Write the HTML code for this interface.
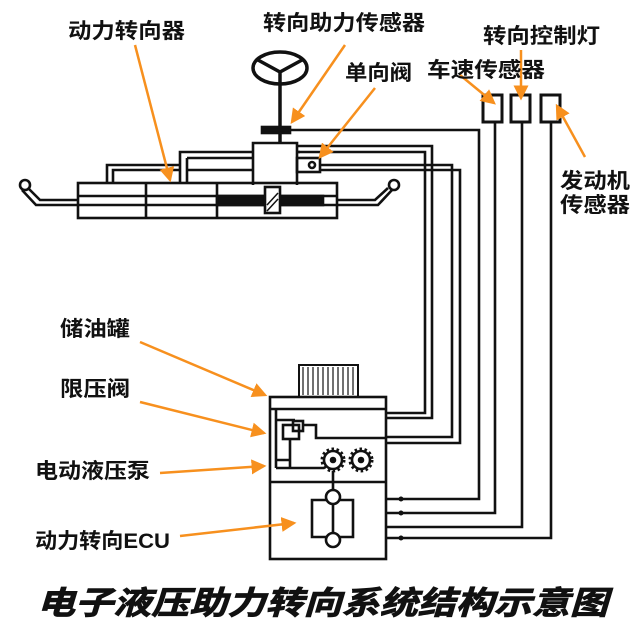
<!DOCTYPE html>
<html><head><meta charset="utf-8"><style>
body{margin:0;background:#fff;width:640px;height:627px;overflow:hidden}
svg text{font-family:"Liberation Sans","Noto Sans CJK SC",sans-serif;font-weight:bold;fill:#111}
</style></head><body>
<svg width="640" height="627" viewBox="0 0 640 627" xmlns="http://www.w3.org/2000/svg">
<defs><marker id="a" markerWidth="6" markerHeight="6" refX="5" refY="3" orient="auto" markerUnits="strokeWidth"><path d="M0,0 L6,3 L0,6 z" fill="#f7901e"/></marker></defs>
<g fill="none" stroke="#111" stroke-width="2.6">
<ellipse cx="280" cy="68" rx="27" ry="16" stroke-width="3.5"/>
<path d="M258,60 L280,72 L302,60 M280,72 L280,84" stroke-width="3.5"/>
<line x1="280" y1="84" x2="280" y2="143" stroke-width="3.5"/>
<rect x="262" y="127" width="28" height="6" fill="#111"/>
<path d="M290,130 H479 V499 H386"/>
<path d="M253,185 V143 H297 V185"/>
<path d="M180,183 V152 H253 M297,152 H300"/>
<path d="M107,183 V165 H180"/>
<path d="M113,183 V170 H180 M187,158 H253 M187,158 V183 M187,170 H253"/>
<rect x="297" y="158" width="23" height="14"/>
<circle cx="312" cy="165" r="3"/>
<path d="M297,152 H425 V413 H386 M297,146 H432 V418 H386" />
<path d="M320,165 H452 V437 H386 M320,170 H460 V443 H386"/>
<rect x="78" y="183" width="259" height="35"/>
<line x1="78" y1="196" x2="337" y2="196"/>
<line x1="78" y1="205" x2="337" y2="205"/>
<line x1="146" y1="183" x2="146" y2="218"/>
<line x1="217" y1="183" x2="217" y2="218"/>
<rect x="217" y="196" width="106" height="9" fill="#111"/>
<rect x="265" y="187" width="15" height="26" fill="#fff"/>
<path d="M267,205 L278,193 M267,211 L278,199" stroke-width="1.5"/>
<path d="M78,200 H40 L28,188 M78,205 H36 L22,190"/>
<circle cx="25" cy="185" r="5"/>
<path d="M337,200 H375 L388,188 M337,205 H378 L392,190"/>
<circle cx="394" cy="185" r="5"/>
<rect x="483" y="95" width="19" height="27" stroke-width="3"/>
<rect x="511" y="95" width="19" height="27" stroke-width="3"/>
<rect x="541" y="95" width="19" height="27" stroke-width="3"/>
<path d="M495,122 V513 H386 M522,122 V527 H386 M551,122 V538 H386"/>
<rect x="299" y="365" width="59" height="32" stroke-width="2"/>
<path d="M303,367 V395 M308,367 V395 M313,367 V395 M318,367 V395 M323,367 V395 M328,367 V395 M333,367 V395 M338,367 V395 M343,367 V395 M348,367 V395 M353,367 V395" stroke-width="1.2"/>
<rect x="270" y="397" width="116" height="162"/>
<line x1="270" y1="409" x2="386" y2="409"/>
<line x1="270" y1="482" x2="386" y2="482"/>
<path d="M276,468 V420 H295 M276,420 V409"/>
<rect x="283" y="425" width="16" height="14"/>
<rect x="293" y="421" width="10" height="10"/>
<path d="M303,425 H316 V438 H386 M290,439 V460 H276 M290,460 V468 M276,468 H324"/>
<circle cx="333" cy="460" r="9"/><circle cx="361" cy="460" r="9"/>
<circle cx="333" cy="460" r="11" stroke-dasharray="2.5 2.5" stroke-width="3"/>
<circle cx="361" cy="460" r="11" stroke-dasharray="2.5 2.5" stroke-width="3"/>
<circle cx="333" cy="460" r="2" fill="#111"/><circle cx="361" cy="460" r="2" fill="#111"/>
<path d="M333,471 V490 M333,505 V532"/>
<circle cx="333" cy="497" r="7"/>
<circle cx="333" cy="540" r="7"/>
<path d="M326,500 H312 V537 H326 M340,500 H353 V537 H340"/>
</g>
<g fill="#111"><circle cx="401" cy="499" r="2.5"/><circle cx="401" cy="513" r="2.5"/><circle cx="401" cy="538" r="2.5"/></g>
<g stroke="#f7901e" stroke-width="2.5" marker-end="url(#a)">
<line x1="135" y1="45" x2="170" y2="180"/>
<line x1="345" y1="45" x2="292" y2="122"/>
<line x1="375" y1="88" x2="320" y2="157"/>
<line x1="460" y1="75" x2="494" y2="103"/>
<line x1="521" y1="50" x2="521" y2="98"/>
<line x1="585" y1="157" x2="557" y2="106"/>
<line x1="140" y1="342" x2="265" y2="395"/>
<line x1="140" y1="402" x2="264" y2="433"/>
<line x1="160" y1="473" x2="264" y2="466"/>
<line x1="180" y1="536" x2="294" y2="523"/>
</g>
<g font-size="21">
<text x="68" y="38" textLength="117" lengthAdjust="spacingAndGlyphs">动力转向器</text>
<text x="263" y="30" textLength="162" lengthAdjust="spacingAndGlyphs">转向助力传感器</text>
<text x="345" y="80" textLength="67" lengthAdjust="spacingAndGlyphs">单向阀</text>
<text x="427" y="77" textLength="118" lengthAdjust="spacingAndGlyphs">车速传感器</text>
<text x="483" y="43" textLength="117" lengthAdjust="spacingAndGlyphs">转向控制灯</text>
<text x="560" y="188" textLength="70" lengthAdjust="spacingAndGlyphs">发动机</text>
<text x="560" y="212" textLength="70" lengthAdjust="spacingAndGlyphs">传感器</text>
<text x="60" y="336" textLength="70" lengthAdjust="spacingAndGlyphs">储油罐</text>
<text x="60" y="396" textLength="70" lengthAdjust="spacingAndGlyphs">限压阀</text>
<text x="35" y="478" textLength="115" lengthAdjust="spacingAndGlyphs">电动液压泵</text>
<text x="35" y="548" textLength="135" lengthAdjust="spacingAndGlyphs">动力转向ECU</text>
</g>
<text x="37" y="614" font-size="32" font-style="italic" textLength="571" lengthAdjust="spacingAndGlyphs" stroke="#111" stroke-width="0.8">电子液压助力转向系统结构示意图</text>
</svg>
</body></html>
